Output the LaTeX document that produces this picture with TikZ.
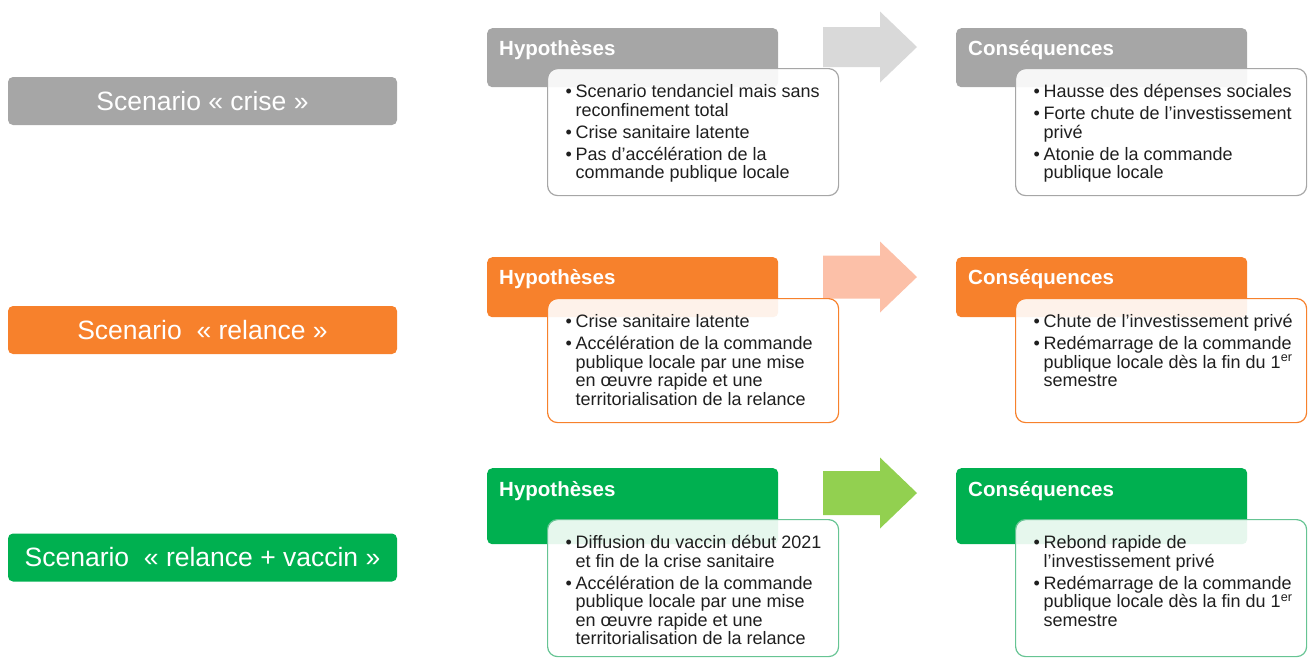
\documentclass[tikz,border=0pt]{standalone}
\usepackage{fontspec}
\setmainfont{Liberation Sans}
\usetikzlibrary{positioning}

\definecolor{crise}{HTML}{A6A6A6}
\definecolor{criseclair}{HTML}{D9D9D9}
\definecolor{relance}{HTML}{F7812C}
\definecolor{relanceclair}{HTML}{FCC0A8}
\definecolor{vaccin}{HTML}{00B050}
\definecolor{vaccinclair}{HTML}{92D050}
\definecolor{vaccinbord}{HTML}{66C493}

\newcommand{\premier}{\noindent\hangindent=10pt\hangafter=1\rule{0pt}{29pt}\makebox[10pt][l]{\textbullet}}
\newcommand{\puce}{\par\noindent\hangindent=10pt\hangafter=1\makebox[10pt][l]{\textbullet}}
\newcommand{\liste}[2]{\parbox[c][#1pt][t]{291pt}{\raggedright\leftskip=18pt\parskip=3.5pt
  \fontsize{18}{18.5}\selectfont#2}}

\tikzset{
  scenario/.style={rounded corners=5pt, minimum width=389pt, minimum height=48pt,
    inner sep=0pt, text=white, font=\fontsize{26.5}{30}\selectfont},
  entete/.style={anchor=north west, rounded corners=5pt, inner xsep=12pt, inner ysep=0pt,
    text width=267pt, align=left, text=white, text height=27pt,
    font=\bfseries\fontsize{20.5}{24}\selectfont},
  corps/.style={anchor=north west, rounded corners=10pt, inner sep=0pt, line width=1.2pt,
    fill=white, fill opacity=0.9, text opacity=1, text=black!88}
}

\begin{document}
\begin{tikzpicture}[x=1pt,y=-1pt]

\useasboundingbox (0,0) rectangle (1308,657);

% scenarios
\node[scenario, fill=crise] (sc1) at (202.5,101) {Scenario « crise »};
\node[scenario, fill=relance] (sc2) at (202.5,330) {Scenario~ « relance »};
\node[scenario, fill=vaccin] (sc3) at (202.5,557.5) {Scenario~ « relance + vaccin »};

% fleches
\foreach \yc/\dy/\col in {47/20/criseclair, 277/21.5/relanceclair, 493/22/vaccinclair}
  \fill[\col] (823,{\yc-\dy}) -- (880,{\yc-\dy}) -- (880,{\yc-35.5}) -- (917,\yc)
    -- (880,{\yc+35.5}) -- (880,{\yc+\dy}) -- (823,{\yc+\dy}) -- cycle;

% en-tetes
\node[entete, fill=crise, text depth=32pt] (hyp1) at (487,28) {Hypothèses};
\node[entete, fill=crise, text depth=32pt] (cons1) at (956,28) {Conséquences};
\node[entete, fill=relance, text depth=33pt] (hyp2) at (487,257) {Hypothèses};
\node[entete, fill=relance, text depth=33pt] (cons2) at (956,257) {Conséquences};
\node[entete, fill=vaccin, text height=28.5pt, text depth=47.5pt] (hyp3) at (487,468) {Hypothèses};
\node[entete, fill=vaccin, text height=28.5pt, text depth=47.5pt] (cons3) at (956,468) {Conséquences};

% contenus
\node[corps, draw=crise] (hb1) at (547,68) {\liste{127}{%
  \premier Scenario tendanciel mais sans\newline reconfinement total
  \puce Crise sanitaire latente
  \puce Pas d’accélération de la\newline commande publique locale}};
\node[corps, draw=crise] (cb1) at (1015,68) {\liste{127}{%
  \premier Hausse des dépenses sociales
  \puce Forte chute de l’investissement\newline privé
  \puce Atonie de la commande\newline publique locale}};

\node[corps, draw=relance] (hb2) at (547,298) {\liste{124}{%
  \premier Crise sanitaire latente
  \puce Accélération de la commande\newline publique locale par une mise\newline en œuvre rapide et une\newline territorialisation de la relance}};
\node[corps, draw=relance] (cb2) at (1015,298) {\liste{124}{%
  \premier Chute de l’investissement privé
  \puce Redémarrage de la commande\newline publique locale dès la fin du 1\textsuperscript{er}\newline semestre}};

\node[corps, draw=vaccinbord] (hb3) at (547,519) {\liste{137}{%
  \premier Diffusion du vaccin début 2021\newline et fin de la crise sanitaire
  \puce Accélération de la commande\newline publique locale par une mise\newline en œuvre rapide et une\newline territorialisation de la relance}};
\node[corps, draw=vaccinbord] (cb3) at (1015,519) {\liste{137}{%
  \premier Rebond rapide de\newline l’investissement privé
  \puce Redémarrage de la commande\newline publique locale dès la fin du 1\textsuperscript{er}\newline semestre}};

\end{tikzpicture}
\end{document}
